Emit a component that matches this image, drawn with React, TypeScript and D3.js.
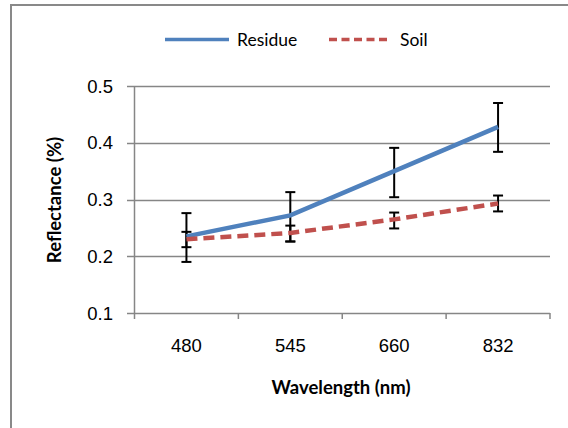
import React from 'react';
import * as d3 from 'd3';

const categories = ['480', '545', '660', '832'];
const residue = [0.235, 0.272, 0.35, 0.428];
const residueLo = [0.19, 0.226, 0.304, 0.384];
const residueHi = [0.276, 0.313, 0.391, 0.47];
const soil = [0.23, 0.241, 0.265, 0.293];
const soilLo = [0.216, 0.226, 0.249, 0.279];
const soilHi = [0.243, 0.254, 0.277, 0.307];
const yTicks = [0.1, 0.2, 0.3, 0.4, 0.5];

const W = 568;
const H = 428;
const grid = '#868686';

export default function App() {
  const x = d3.scaleBand<string>().domain(categories).range([134.5, 550]).paddingInner(0).paddingOuter(0);
  const y = d3.scaleLinear().domain([0.1, 0.5]).range([313, 86]);
  const cx = (c: string) => (x(c) as number) + x.bandwidth() / 2;

  const line = d3.line<number>()
    .x((d, i) => cx(categories[i]))
    .y(d => y(d));

  const series = [
    { name: 'Residue', vals: residue, lo: residueLo, hi: residueHi, color: '#4F81BD', dash: undefined },
    { name: 'Soil', vals: soil, lo: soilLo, hi: soilHi, color: '#C0504D', dash: '11,6' },
  ];

  const boundaries = categories.map(c => x(c) as number).concat([550]);

  return (
    <svg width={W} height={H} style={{ position: 'absolute', left: 0, top: 0, display: 'block', background: '#fff' }}>
      <rect x={11} y={5} width={W} height={H} fill="#fff" stroke="#898989" strokeWidth={2} />

      {/* legend */}
      <line x1={165} x2={229} y1={39.5} y2={39.5} stroke="#4F81BD" strokeWidth={3.5} />
      <text x={237} y={45.5} fontFamily="Lato, 'Open Sans', sans-serif" fontSize={17.5} fill="#000">Residue</text>
      <line x1={329} x2={391} y1={39.5} y2={39.5} stroke="#C0504D" strokeWidth={3.5} strokeDasharray="8,4.5" />
      <text x={400} y={45.5} fontFamily="Lato, 'Open Sans', sans-serif" fontSize={17.5} fill="#000">Soil</text>

      {/* gridlines and y ticks */}
      {yTicks.map(t => (
        <g key={t}>
          <line x1={127} x2={550} y1={Math.round(y(t)) + 0.5} y2={Math.round(y(t)) + 0.5} stroke={grid} strokeWidth={1.5} />
          <text x={113} y={y(t)} dy="0.36em" textAnchor="end" fontFamily="'Liberation Sans', Arial, sans-serif" fontSize={18.5} fill="#000">{t.toFixed(1)}</text>
        </g>
      ))}
      <line x1={134.5} x2={134.5} y1={86} y2={313} stroke={grid} strokeWidth={1.5} />
      {boundaries.map((b, i) => (
        <line key={i} x1={b} x2={b} y1={313} y2={319} stroke={grid} strokeWidth={1.5} />
      ))}
      {categories.map(c => (
        <text key={c} x={cx(c)} y={345} dy="0.36em" textAnchor="middle" fontFamily="'Liberation Sans', Arial, sans-serif" fontSize={18.5} fill="#000">{c}</text>
      ))}

      {/* error bars */}
      {series.map(s => categories.map((c, i) => (
        <g key={s.name + c} stroke="#000" strokeWidth={2}>
          <line x1={cx(c)} x2={cx(c)} y1={y(s.lo[i])} y2={y(s.hi[i])} />
          <line x1={cx(c) - 5} x2={cx(c) + 5} y1={y(s.lo[i])} y2={y(s.lo[i])} />
          <line x1={cx(c) - 5} x2={cx(c) + 5} y1={y(s.hi[i])} y2={y(s.hi[i])} />
        </g>
      )))}

      {/* series lines */}
      {series.map(s => (
        <path key={s.name} d={line(s.vals) || ''} fill="none" stroke={s.color} strokeWidth={4.5} strokeDasharray={s.dash} strokeLinecap="butt" />
      ))}

      {/* axis titles */}
      <text x={341} y={394} textAnchor="middle" fontFamily="Lato, 'Open Sans', sans-serif" fontWeight="bold" fontSize={18.5} fill="#000">Wavelength (nm)</text>
      <text transform="translate(61,200) rotate(-90)" textAnchor="middle" fontFamily="Lato, 'Open Sans', sans-serif" fontWeight="bold" fontSize={18.5} fill="#000">Reflectance (%)</text>
    </svg>
  );
}
